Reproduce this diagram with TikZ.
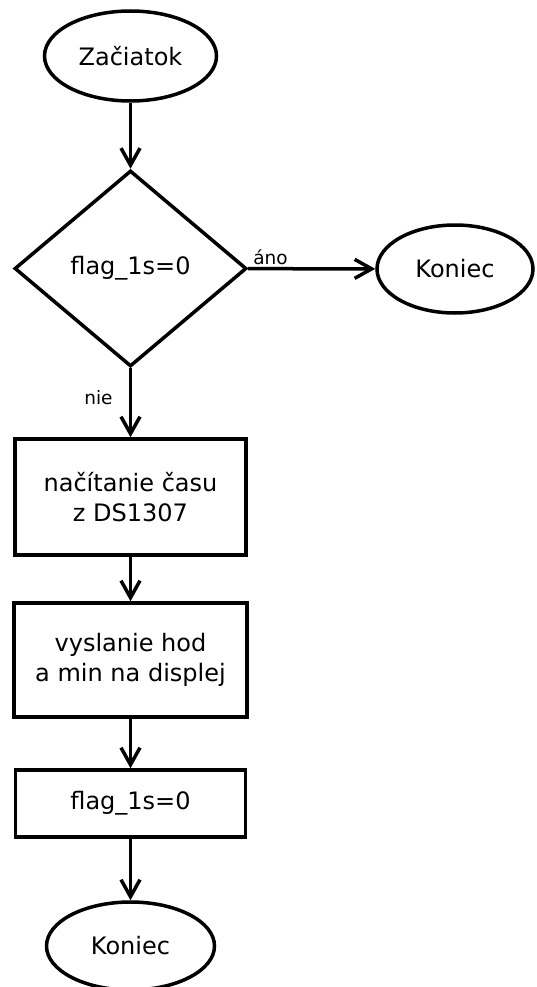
\documentclass[tikz,border=0pt]{standalone}
\usepackage{fontspec}
\setmainfont{DejaVu Sans}
\usetikzlibrary{arrows.meta}
\usetikzlibrary{shapes.geometric}

\begin{document}
\begin{tikzpicture}[x=1pt,y=-1pt]
    \tikzstyle{every node}=[font=\fontsize{24}{30}\selectfont, align=center]
    \tikzstyle{terminal}=[draw, line width=3.5pt, ellipse, inner sep=0pt]
    \tikzstyle{process}=[draw, line width=3.5pt, rectangle, inner sep=0pt]
    \tikzstyle{decision}=[draw, line width=3.5pt, diamond, inner sep=0pt]
    \tikzstyle{flow}=[line width=3.5pt, -{Straight Barb[length=17pt,width=19pt]}]
    \tikzstyle{small}=[font=\fontsize{18.5}{22}\selectfont]
    \useasboundingbox (0,0) rectangle (536,987);

     \node[terminal, minimum width=172pt, minimum height=90pt] (start) at (130.5,56) {Začiatok};
     \node[decision, minimum width=232pt, minimum height=196pt] (test) at (130.5,268.5) {flag\_1s=0};
     \node[terminal, minimum width=156pt, minimum height=88pt] (endA) at (455,269) {Koniec};
     \node[process, minimum width=231pt, minimum height=116pt] (read) at (130.5,497) {načítanie času\\z DS1307};
     \node[process, minimum width=233pt, minimum height=114pt] (send) at (130.5,660) {vyslanie hod\\a min na displej};
     \node[process, minimum width=230pt, minimum height=67pt] (reset) at (130.5,803.5) {flag\_1s=0};
     \node[terminal, minimum width=168pt, minimum height=88pt] (endB) at (130.5,946) {Koniec};

     \draw[flow] (start) -- (test);
     \draw[flow] (test) -- (endA);
     \draw[flow] (test) -- (read);
     \draw[flow] (read) -- (send);
     \draw[flow] (send) -- (reset);
     \draw[flow] (reset) -- (endB);

     \node[small] (yes) at (270.5,257) {áno};
     \node[small] (no) at (98.5,398) {nie};
    \end{tikzpicture}
\end{document}
